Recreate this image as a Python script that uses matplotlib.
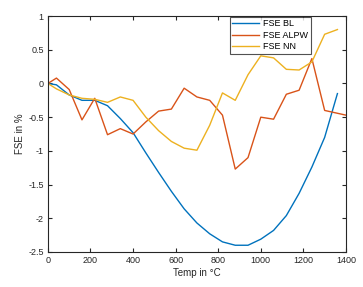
import matplotlib
matplotlib.use("Agg")
import matplotlib.pyplot as plt

temp = [0, 40, 100, 160, 220, 280, 340, 400, 460, 520, 580, 640, 700,
        760, 820, 880, 940, 1000, 1060, 1120, 1180, 1240, 1300, 1360]
temp_alpw = temp[:-1] + [1400]

fse_bl = [0, -0.02, -0.17, -0.25, -0.25, -0.33, -0.52, -0.73, -1.03, -1.32,
          -1.60, -1.86, -2.07, -2.23, -2.35, -2.40, -2.40, -2.31, -2.18, -1.96,
          -1.63, -1.24, -0.80, -0.15]
fse_alpw = [0, 0.08, -0.09, -0.54, -0.22, -0.76, -0.67, -0.75, -0.57, -0.41,
            -0.38, -0.07, -0.20, -0.25, -0.47, -1.27, -1.10, -0.50, -0.53, -0.16,
            -0.10, 0.37, -0.40, -0.47]
fse_nn = [0, -0.08, -0.17, -0.22, -0.235, -0.28, -0.20, -0.25, -0.50, -0.70,
          -0.86, -0.96, -0.99, -0.62, -0.14, -0.25, 0.13, 0.41, 0.38, 0.21,
          0.20, 0.32, 0.73, 0.80]

plt.rcParams['font.family'] = ['Liberation Sans', 'DejaVu Sans']

fig = plt.figure(figsize=(3.63, 2.87), dpi=100)
ax = fig.add_axes([0.132, 0.122, 0.821, 0.822])

ax.plot(temp, fse_bl, color="#0072BD", linewidth=1.0, label="FSE BL")
ax.plot(temp_alpw, fse_alpw, color="#D95319", linewidth=1.0, label="FSE ALPW")
ax.plot(temp, fse_nn, color="#EDB120", linewidth=1.0, label="FSE NN")

ax.set_xlim(0, 1400)
ax.set_ylim(-2.5, 1)
ax.set_xticks(range(0, 1401, 200))
ax.set_yticks([-2.5, -2, -1.5, -1, -0.5, 0, 0.5, 1])
ax.set_yticklabels(["-2.5", "-2", "-1.5", "-1", "-0.5", "0", "0.5", "1"])

ax.tick_params(direction="in", top=True, right=True, length=3, width=0.8,
               labelsize=6.5, colors="#262626", pad=3)
for s in ax.spines.values():
    s.set_color("#262626")
    s.set_linewidth(0.8)

ax.set_xlabel("Temp in \u00b0C", fontsize=7, color="#262626", labelpad=2)
ax.set_ylabel("FSE in %", fontsize=7, color="#262626", labelpad=2)

leg = ax.legend(loc="upper right", bbox_to_anchor=(0.882, 0.997), fontsize=6.5,
                frameon=True, fancybox=False, borderpad=0.3, labelspacing=0.25,
                handlelength=2.9, handletextpad=0.5, borderaxespad=0)
leg.get_frame().set_edgecolor("#262626")
leg.get_frame().set_linewidth(0.8)

fig.savefig("out.png", dpi=100)
